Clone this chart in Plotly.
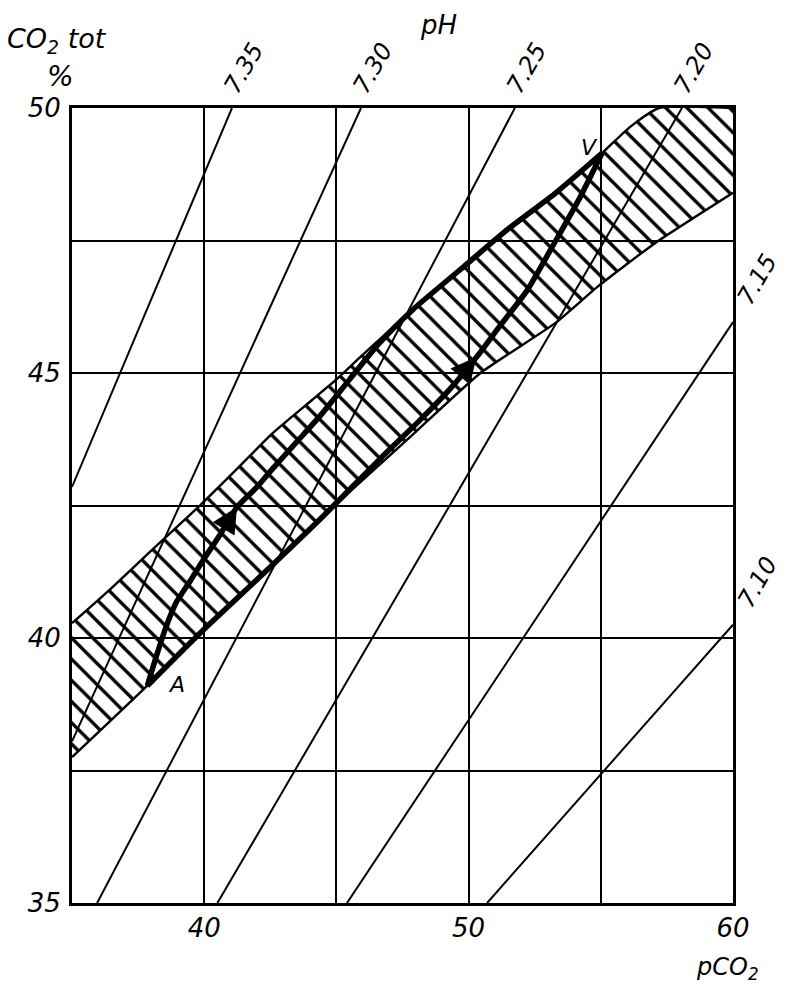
import plotly.graph_objects as go

# axes: pCO2 (x) and CO2 tot % (y)
x_grid = [35, 40, 45, 50, 55, 60]
x_ticks = [40, 50, 60]
y_grid = [35, 37.5, 40, 42.5, 45, 47.5, 50]
y_ticks = [35, 40, 45, 50]

# pH isopleths, end points (pCO2, CO2 tot)
ph_labels = ["7.35", "7.30", "7.25", "7.20", "7.15", "7.10"]
ph_x0 = [35, 35, 35.95, 40.5, 45.4, 50.7]
ph_y0 = [42.85, 38.05, 35, 35, 35, 35]
ph_x1 = [41.05, 45.93, 51.75, 58.07, 60, 60]
ph_y1 = [50, 50, 50, 50, 45.96, 40.25]

# hatched band: upper and lower edge
band_top_x = [35, 36.4, 38.0, 39.84, 41.24, 42.6, 44.1, 45.0, 45.9, 47.9, 49.8, 51.45, 53.3, 55.05, 56.1, 57.2, 60]
band_top_y = [40.28, 40.9, 41.65, 42.5, 43.19, 43.87, 44.5, 44.88, 45.3, 46.2, 47.0, 47.7, 48.4, 49.15, 49.64, 50, 50]
band_bot_x = [35, 37.85, 39.84, 42.1, 44.4, 46.5, 48.0, 50.45, 53.3, 54.86, 57.05, 60]
band_bot_y = [37.75, 39.1, 40.09, 41.15, 42.25, 43.21, 43.89, 45.0, 45.95, 46.62, 47.45, 48.4]

# A -> V paths
path_up_x = [37.85, 38.18, 38.55, 38.93, 39.5, 40.0, 40.6, 41.24, 42.0, 42.6, 43.5, 44.4, 45.5, 46.6, 47.9, 49.8, 51.45, 53.3, 55.05]
path_up_y = [39.1, 39.64, 40.2, 40.66, 41.1, 41.5, 41.95, 42.47, 42.85, 43.2, 43.7, 44.2, 44.88, 45.55, 46.2, 47.0, 47.7, 48.4, 49.15]
path_low_x = [37.85, 39.84, 42.1, 44.4, 46.65, 48.16, 49.3, 50.3, 51.2, 52.2, 53.3, 54.2, 55.05]
path_low_y = [39.1, 40.09, 41.15, 42.25, 43.38, 44.11, 44.7, 45.3, 45.9, 46.55, 47.5, 48.3, 49.15]
arrow_idx = 7  # arrowhead sits on this point of each path

point_labels = ["A", "V"]
point_x = [38.97, 54.59]
point_y = [39.13, 49.25]

FONT = "DejaVu Sans"

fig = go.Figure()

# hatch fill of the band
fig.add_trace(go.Scatter(
    x=band_top_x + band_bot_x[::-1], y=band_top_y + band_bot_y[::-1],
    mode="lines", fill="toself", line=dict(width=0),
    fillcolor="rgba(0,0,0,0)",
    fillpattern=dict(shape="\\", size=15, solidity=0.22, fgcolor="black", fgopacity=1,
                     bgcolor="rgba(0,0,0,0)"),
    hoverinfo="skip"))

# pH lines
xs, ys = [], []
for a, b, c, d in zip(ph_x0, ph_y0, ph_x1, ph_y1):
    xs += [a, c, None]
    ys += [b, d, None]
fig.add_trace(go.Scatter(x=xs, y=ys, mode="lines", line=dict(color="black", width=2), hoverinfo="skip"))

# band edges
for bx, by in [(band_top_x, band_top_y), (band_bot_x, band_bot_y)]:
    fig.add_trace(go.Scatter(x=bx, y=by, mode="lines",
                             line=dict(color="black", width=2.4, shape="spline", smoothing=0.5),
                             hoverinfo="skip"))

# thick paths A -> V, with an arrowhead pointing towards V
for px, py in [(path_up_x, path_up_y), (path_low_x, path_low_y)]:
    fig.add_trace(go.Scatter(x=px, y=py, mode="lines",
                             line=dict(color="black", width=5.5, shape="spline", smoothing=0.6),
                             hoverinfo="skip"))
    fig.add_annotation(x=px[arrow_idx], y=py[arrow_idx], ax=px[arrow_idx - 1], ay=py[arrow_idx - 1],
                       xref="x", yref="y", axref="x", ayref="y", text=" ", showarrow=True,
                       arrowhead=2, arrowsize=1.7, arrowwidth=3, arrowcolor="black")

for t, x, y in zip(point_labels, point_x, point_y):
    fig.add_annotation(x=x, y=y, text=t, showarrow=False, font=dict(size=22))

# pH labels at the end of each line
for i, t in enumerate(ph_labels):
    top = ph_y1[i] == 50
    fig.add_annotation(x=ph_x1[i], y=ph_y1[i], text=t, showarrow=False, textangle=-60,
                       xanchor="center", yanchor="middle",
                       xshift=12 if top else 24, yshift=40 if top else 42, font=dict(size=24))

paper_text = [
    ("pH", 0.554, 1.105, 26),
    ("CO<sub>2</sub> tot", -0.022, 1.0855, 27),
    ("%", -0.018, 1.039, 28),
    ("pCO<sub>2</sub>", 0.992, -0.082, 24),
]
for t, x, y, s in paper_text:
    fig.add_annotation(x=x, y=y, xref="paper", yref="paper", text=t, showarrow=False,
                       xanchor="center", yanchor="middle", font=dict(size=s))

axis_style = dict(showgrid=True, gridcolor="black", gridwidth=2, showline=True, linecolor="black",
                  linewidth=3, mirror=True, zeroline=False, ticks="", automargin=False)
fig.update_xaxes(range=[35, 60], tickvals=x_ticks, ticklabelstandoff=0,
                 minor=dict(tickvals=x_grid, showgrid=True, gridcolor="black", gridwidth=2, ticks=""),
                 **axis_style)
fig.update_yaxes(range=[35, 50], tickvals=y_ticks, ticklabelstandoff=3,
                 minor=dict(tickvals=y_grid, showgrid=True, gridcolor="black", gridwidth=2, ticks=""),
                 **axis_style)
# the page body adds an 8px offset, so the figure is 8px smaller on each side of the origin
fig.update_layout(
    width=777, height=979,
    margin=dict(l=64, r=52, t=100, b=84),
    plot_bgcolor="white", paper_bgcolor="white",
    showlegend=False,
    font=dict(family=FONT, size=26, color="black", style="italic"),
)

fig.write_html("out.html")
